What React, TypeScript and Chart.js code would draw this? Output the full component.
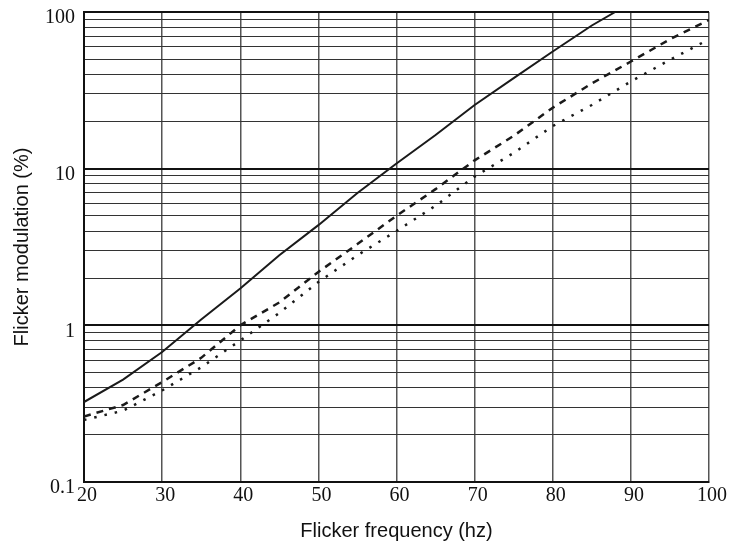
import React, { useEffect, useRef } from "react";
import { Chart, registerables } from "chart.js";

Chart.register(...registerables);

const solidFreq = [20, 25, 30, 35, 40, 45, 50, 55, 60, 65, 70, 75, 80, 85, 88];
const solidValues = [0.324, 0.45, 0.675, 1.09, 1.72, 2.8, 4.36, 7.0, 10.8, 16.4, 25.5, 37.8, 56, 82, 100];

const dashedFreq = [20, 25, 30, 35, 40, 45, 50, 55, 60, 65, 70, 75, 80, 85, 90, 95, 100];
const dashedValues = [0.262, 0.31, 0.434, 0.62, 1.0, 1.4, 2.19, 3.3, 5.0, 7.4, 11.3, 16.2, 24.5, 35, 48.3, 67, 89];

const dottedFreq = [20, 25, 30, 35, 40, 45, 50, 55, 60, 65, 70, 75, 80, 85, 90, 95, 100];
const dottedValues = [0.249, 0.285, 0.384, 0.54, 0.8, 1.2, 1.89, 2.8, 4.0, 5.8, 8.9, 12.6, 18.7, 25.5, 36, 49.5, 67];

const xTicks = [20, 30, 40, 50, 60, 70, 80, 90, 100];
const yMajorTicks = [0.1, 1, 10, 100];
const yAllTicks = [
  0.1, 0.2, 0.3, 0.4, 0.5, 0.6, 0.7, 0.8, 0.9,
  1, 2, 3, 4, 5, 6, 7, 8, 9,
  10, 20, 30, 40, 50, 60, 70, 80, 90,
  100,
];

const xTitle = "Flicker frequency (hz)";
const yTitle = "Flicker modulation (%)";

const isMajor = (v: number) => yMajorTicks.some((m) => Math.abs(m - v) < 1e-9);

export default function App() {
  const ref = useRef<HTMLCanvasElement | null>(null);

  useEffect(() => {
    if (!ref.current) return;
    const toPts = (xs: number[], ys: number[]) => xs.map((x, i) => ({ x, y: ys[i] }));
    const chart = new Chart(ref.current, {
      type: "line",
      data: {
        datasets: [
          {
            data: toPts(solidFreq, solidValues),
            borderColor: "#1a1a1a",
            borderWidth: 2,
            pointRadius: 0,
            tension: 0,
          },
          {
            data: toPts(dashedFreq, dashedValues),
            borderColor: "#1a1a1a",
            borderWidth: 2.5,
            borderDash: [7, 6],
            pointRadius: 0,
            tension: 0,
          },
          {
            data: toPts(dottedFreq, dottedValues),
            borderColor: "#1a1a1a",
            borderWidth: 2.5,
            borderDash: [2.5, 8],
            pointRadius: 0,
            tension: 0,
          },
        ],
      },
      options: {
        responsive: false,
        animation: false,
        layout: { padding: { top: 12, right: 21, left: 0, bottom: 0 } },
        plugins: { legend: { display: false }, tooltip: { enabled: false } },
        scales: {
          x: {
            type: "linear",
            min: 20,
            max: 100,
            afterBuildTicks: (scale: any) => {
              scale.ticks = xTicks.map((v) => ({ value: v }));
            },
            afterFit: (scale: any) => {
              scale.height = 64;
              scale.paddingLeft = 0;
              scale.paddingRight = 0;
            },
            ticks: {
              color: "#111",
              font: { family: "'Liberation Serif', serif", size: 20 },
              padding: 2,
              labelOffset: 3,
              maxRotation: 0,
              autoSkip: false,
              callback: (v: any) => String(v),
            },
            grid: {
              color: "#555",
              lineWidth: 1.5,
              drawTicks: false,
            },
            border: { color: "#111", width: 2 },
            title: {
              display: true,
              text: xTitle,
              color: "#111",
              font: { family: "'Liberation Sans', Arial, sans-serif", size: 20 },
              padding: { top: 3, bottom: 3 },
            },
          },
          y: {
            type: "logarithmic",
            min: 0.1,
            max: 100,
            afterBuildTicks: (scale: any) => {
              scale.ticks = yAllTicks.map((v) => ({ value: v }));
            },
            afterFit: (scale: any) => {
              scale.width = 84;
              scale.paddingTop = 0;
              scale.paddingBottom = 0;
            },
            ticks: {
              color: "#111",
              font: { family: "'Liberation Serif', serif", size: 20 },
              padding: 9,
              labelOffset: 6,
              autoSkip: false,
              callback: (v: any) => (isMajor(Number(v)) ? String(v) : ""),
            },
            grid: {
              color: (ctx: any) => (ctx.tick && isMajor(ctx.tick.value) ? "#111" : "#333"),
              lineWidth: (ctx: any) => (ctx.tick && isMajor(ctx.tick.value) ? 2 : 1),
              drawTicks: false,
            },
            border: { color: "#111", width: 2 },
            title: {
              display: true,
              text: yTitle,
              color: "#111",
              font: { family: "'Liberation Sans', Arial, sans-serif", size: 20 },
              padding: { top: 10, bottom: 0 },
            },
          },
        },
      },
    });
    return () => chart.destroy();
  }, []);

  return (
    <div style={{ position: "absolute", left: 0, top: 0, width: 730, height: 546, background: "#fff" }}>
      <canvas ref={ref} width={730} height={546} />
    </div>
  );
}
